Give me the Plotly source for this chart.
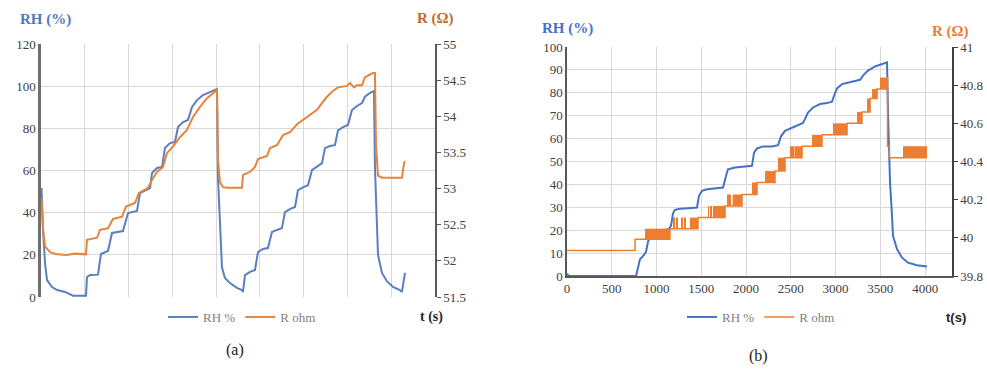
import plotly.graph_objects as go

# ---------------- (a) data ----------------
a_t_rh = [6, 23, 46, 69, 126, 183, 274, 331, 365, 514, 525, 560, 651, 685, 765, 811, 936, 994, 1096, 1131,
          1245, 1268, 1325, 1382, 1416, 1473, 1530, 1565, 1622, 1679, 1724, 1782, 1850, 1930, 2010, 2021,
          2044, 2067, 2101, 2158, 2238, 2295, 2307, 2330, 2387, 2444, 2478, 2535, 2592, 2638, 2695, 2752,
          2786, 2843, 2901, 2935, 2992, 3049, 3095, 3152, 3209, 3243, 3300, 3357, 3392, 3449, 3506, 3552,
          3609, 3666, 3700, 3757, 3803, 3814, 3837, 3849, 3894, 3951, 4020, 4100, 4123, 4146, 4157]
a_rh = [51.7, 31.8, 16, 8, 4.7, 3.3, 2.4, 1.4, 0.6, 0.6, 9.5, 10.4, 10.6, 20.4, 21.8, 30.4, 31.3, 39.8, 40.8, 49.3,
        51.7, 58.8, 61.2, 61.7, 70.7, 73, 73.5, 80.6, 83, 84, 90, 93.4, 95.8, 97.2, 98.6, 57,
        33, 14, 9, 6.6, 4.3, 3.3, 2.4, 10.4, 11.9, 12.8, 21.3, 22.8, 23.2, 30.8, 31.8, 32.7,
        40.3, 41.7, 42.7, 50.7, 52, 53, 60.2, 61.7, 63.5, 70.6, 71.6, 72, 79, 80.6, 81.6, 88.7,
        90.6, 92, 95, 96.8, 97.7, 61.7, 33, 20, 11.4, 7.5, 4.8, 3.3, 2.4, 9.5, 11.4]

a_t_r = [6, 23, 46, 103, 183, 297, 388, 514, 525, 640, 674, 765, 822, 925, 971, 1073, 1119, 1222, 1268,
         1325, 1393, 1439, 1507, 1587, 1667, 1736, 1816, 1896, 1987, 2010, 2021, 2044, 2078, 2136, 2295,
         2307, 2387, 2444, 2478, 2581, 2615, 2695, 2764, 2844, 2924, 2992, 3072, 3152, 3220, 3266, 3323,
         3392, 3495, 3529, 3575, 3609, 3666, 3700, 3792, 3814, 3826, 3837, 3849, 3894, 4123, 4146, 4157]
a_r = [52.87, 52.45, 52.2, 52.12, 52.09, 52.08, 52.10, 52.09, 52.29, 52.32, 52.43, 52.45, 52.58, 52.61, 52.75,
       52.80, 52.94, 53.01, 53.12, 53.23, 53.30, 53.49, 53.58, 53.71, 53.81, 53.99, 54.13, 54.25, 54.34,
       54.38, 53.40, 53.09, 53.02, 53.01, 53.01, 53.19, 53.23, 53.30, 53.41, 53.45, 53.56, 53.60, 53.74,
       53.78, 53.89, 53.95, 54.02, 54.09, 54.20, 54.27, 54.34, 54.40, 54.42, 54.46, 54.40, 54.43, 54.43,
       54.54, 54.60, 54.60, 53.60, 53.30, 53.18, 53.15, 53.15, 53.35, 53.38]

# ---------------- (b) data ----------------
b_t_rh = [0, 20, 771, 793, 815, 860, 882, 905, 950, 1039, 1139, 1162, 1184, 1206, 1262, 1352, 1452, 1474,
          1508, 1564, 1653, 1743, 1776, 1798, 1877, 1966, 2066, 2089, 2122, 2189, 2290, 2357, 2390, 2435,
          2491, 2524, 2580, 2636, 2658, 2692, 2748, 2826, 2904, 2960, 2982, 3016, 3072, 3139, 3217, 3273,
          3306, 3362, 3440, 3519, 3574, 3586, 3608, 3630, 3641, 3686, 3742, 3809, 3909, 4021]
b_rh = [1, 0, 0, 4, 7.3, 9.2, 10.5, 15, 18.5, 19.5, 20.5, 22, 27.4, 28.9, 29.4, 29.6, 29.9, 35,
        37.2, 37.9, 38.2, 38.6, 43.7, 46.6, 47.4, 47.8, 48.1, 53.9, 55.7, 56.6, 56.6, 57.1, 61, 63.4,
        64.4, 64.9, 65.9, 66.8, 68.5, 71.4, 73.6, 75.1, 75.5, 76.1, 78.7, 81.9, 83.8, 84.5, 85.3, 85.7,
        87.5, 89.7, 91.5, 92.6, 93.3, 70, 40.8, 26.2, 17.5, 11.7, 8, 5.8, 4.7, 4.1]

b_t_r = [0, 760, 1150, 1463, 1765, 1955, 2122, 2323, 2435, 2625, 2848, 3128, 3295, 3385, 3463, 3574,
         3580, 3600, 4021]
b_r = [39.934, 39.992, 40.048, 40.106, 40.167, 40.227, 40.29, 40.35, 40.42, 40.48, 40.54, 40.60, 40.66,
       40.73, 40.78, 40.84, 40.48, 40.42, 40.42]

# fluctuation bands of R (start, end, low, high)
b_blk_start = [871, 1190, 1228, 1276, 1313, 1374, 1575, 1600, 1630, 1795, 1820, 1850, 2066, 2212, 2357,
               2495, 2515, 2540, 2737, 2971, 3239, 3351, 3407, 3496, 3753]
b_blk_end = [1150, 1200, 1238, 1286, 1323, 1463, 1585, 1610, 1765, 1805, 1830, 1955, 2122, 2323, 2435,
             2505, 2525, 2625, 2848, 3128, 3295, 3385, 3463, 3574, 4021]
b_blk_low = [39.992, 40.048, 40.048, 40.048, 40.048, 40.048, 40.106, 40.106, 40.106, 40.167, 40.167, 40.167,
             40.227, 40.29, 40.35, 40.42, 40.42, 40.42, 40.48, 40.54, 40.60, 40.66, 40.73, 40.78, 40.42]
b_blk_high = [40.048, 40.106, 40.106, 40.106, 40.106, 40.106, 40.167, 40.167, 40.167, 40.227, 40.227, 40.227,
              40.29, 40.35, 40.42, 40.48, 40.48, 40.48, 40.54, 40.60, 40.66, 40.73, 40.78, 40.84, 40.48]

# ---------------- layout helpers ----------------
W, H = 987, 374


def px(x):
    return x / W


def py(y):
    return 1 - y / H


SERIF = "Liberation Serif"
TICK_FONT = dict(family=SERIF, size=13, color="#404040")
GRID = "#d9d9d9"
AX = "#6f6f6f"

A_BLUE, A_ORANGE = "#5B7FC0", "#E5843C"
B_BLUE, B_ORANGE = "#4472C4", "#ED7D31"

fig = go.Figure()

fig.add_trace(go.Scatter(x=a_t_rh, y=a_rh, mode="lines", name="RH %", xaxis="x", yaxis="y",
                         line=dict(color=A_BLUE, width=2), legend="legend"))
fig.add_trace(go.Scatter(x=a_t_r, y=a_r, mode="lines", name="R ohm", xaxis="x", yaxis="y2",
                         line=dict(color=A_ORANGE, width=2), legend="legend"))

fig.add_trace(go.Scatter(x=b_t_rh, y=b_rh, mode="lines", name="RH %", xaxis="x2", yaxis="y3",
                         line=dict(color=B_BLUE, width=2), legend="legend2"))
fig.add_trace(go.Bar(x=[(s + e) / 2 for s, e in zip(b_blk_start, b_blk_end)],
                     width=[e - s for s, e in zip(b_blk_start, b_blk_end)],
                     base=b_blk_low, y=[h - l for h, l in zip(b_blk_high, b_blk_low)],
                     xaxis="x2", yaxis="y4", marker=dict(color=B_ORANGE, line=dict(width=0)),
                     showlegend=False, hoverinfo="skip"))
fig.add_trace(go.Scatter(x=b_t_r, y=b_r, mode="lines", name="R ohm", xaxis="x2", yaxis="y4",
                         line=dict(color=B_ORANGE, width=1.5, shape="hv"), legend="legend2"))

fig.update_layout(
    width=W, height=H, margin=dict(l=0, r=0, t=0, b=0, autoexpand=False),
    paper_bgcolor="white", plot_bgcolor="white", barmode="overlay",
    xaxis=dict(domain=[px(41), px(435)], range=[0, 4500], dtick=500, tick0=0, showgrid=True,
               gridcolor=GRID, showticklabels=False, zeroline=False, showline=False, anchor="y",
               automargin=False),
    yaxis=dict(domain=[py(297), py(44)], range=[0, 120], dtick=20, gridcolor=GRID, zeroline=False,
               showline=True, linecolor=AX, linewidth=2.5, ticks="", tickfont=TICK_FONT, anchor="x",
               automargin=False),
    yaxis2=dict(overlaying="y", side="right", anchor="x", range=[51.5, 55], dtick=0.5, showgrid=False,
                zeroline=False, showline=True, linecolor="#595959", linewidth=1.5, ticks="outside",
                ticklen=4, tickcolor="#595959", tickfont=TICK_FONT, automargin=False),
    xaxis2=dict(domain=[px(567), px(952)], range=[0, 4300], dtick=500, tick0=0, showgrid=True,
                gridcolor=GRID, zeroline=False, showline=True, linecolor="#595959", linewidth=1.5,
                ticks="", tickfont=TICK_FONT, anchor="y3", automargin=False),
    yaxis3=dict(domain=[py(276), py(47)], range=[0, 100], dtick=10, gridcolor=GRID, zeroline=False,
                showline=True, linecolor="#595959", linewidth=1.5, ticks="", tickfont=TICK_FONT,
                anchor="x2", automargin=False),
    yaxis4=dict(overlaying="y3", side="right", anchor="x2", range=[39.8, 41], dtick=0.2, showgrid=False,
                zeroline=False, showline=True, linecolor="#404040", linewidth=1.5, ticks="outside",
                ticklen=4, tickcolor="#404040", tickfont=TICK_FONT, automargin=False),
    legend=dict(x=px(242), y=py(317), xanchor="center", yanchor="middle", orientation="h",
                font=dict(family=SERIF, size=13, color="#7f7f7f"), bgcolor="rgba(0,0,0,0)",
                itemwidth=30, tracegroupgap=0),
    legend2=dict(x=px(761), y=py(317), xanchor="center", yanchor="middle", orientation="h",
                 font=dict(family=SERIF, size=13, color="#7f7f7f"), bgcolor="rgba(0,0,0,0)",
                 itemwidth=30, tracegroupgap=0),
)

ann = [
    ("<b>RH (%)</b>", 45, 20, dict(family=SERIF, size=15, color="#5079BD")),
    ("<b>R (Ω)</b>", 435, 19, dict(family=SERIF, size=15, color="#C46A2B")),
    ("<b>RH (%)</b>", 567, 29, dict(family=SERIF, size=15, color="#4472C4")),
    ("<b>R (Ω)</b>", 950, 31, dict(family=SERIF, size=15, color="#ED7D31")),
    ("<b>t (s)</b>", 431, 317, dict(family=SERIF, size=14, color="#262626")),
    ("<b>t(s)</b>", 956, 317, dict(family="Liberation Sans", size=13, color="#262626")),
    ("(a)", 235, 350, dict(family=SERIF, size=16, color="#222222")),
    ("(b)", 758, 356, dict(family=SERIF, size=16, color="#222222")),
]
for text, x, y, font in ann:
    fig.add_annotation(text=text, x=px(x), y=py(y), xref="paper", yref="paper", showarrow=False,
                       xanchor="center", yanchor="middle", font=font)

fig.write_html("out.html", config={"displayModeBar": False},
               post_script="document.body.style.margin='0';")
